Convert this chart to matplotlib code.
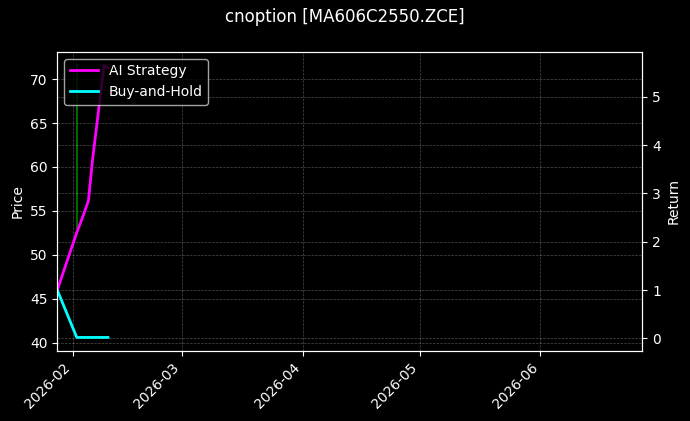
import matplotlib
matplotlib.use("Agg")
import matplotlib.pyplot as plt
import matplotlib.dates as mdates
import pandas as pd

plt.style.use("dark_background")

# Data
title = "cnoption [MA606C2550.ZCE]"
dates = ["2026-01-28", "2026-02-02", "2026-02-03", "2026-02-04", "2026-02-05",
         "2026-02-06", "2026-02-09", "2026-02-10"]
ai_strategy = [1.00, 2.19, 2.40, 2.62, 2.85, 3.66, 5.65, 5.60]
buy_and_hold = [1.00, 0.02, 0.02, 0.02, 0.02, 0.02, 0.02, 0.02]
price_dates = ["2026-02-02", "2026-02-02"]
price_values = [53.05, 71.55]

d = pd.to_datetime(dates)
pdates = pd.to_datetime(price_dates)

fig = plt.figure(figsize=(6.9, 4.21), dpi=100)
ax1 = fig.add_axes([0.083, 0.166, 0.848, 0.711])
ax1.plot(pdates, price_values, color="green", linewidth=1.3, alpha=0.9)
ax1.set_ylabel("Price")
ax1.set_ylim(39.06, 73.1)
ax1.grid(True, linestyle="--", linewidth=0.5, alpha=0.3)

ax2 = ax1.twinx()
ax2.plot(d, ai_strategy, color="magenta", linewidth=2, label="AI Strategy")
ax2.plot(d, buy_and_hold, color="cyan", linewidth=2, label="Buy-and-Hold")
ax2.set_ylabel("Return")
ax2.set_ylim(-0.263, 5.93)
ax2.grid(True, linestyle="--", linewidth=0.5, alpha=0.3)
ax2.legend(loc="upper left")

ax1.set_xlim(pd.Timestamp("2026-01-28"), pd.Timestamp("2026-06-27 04:00"))
ax1.xaxis.set_major_locator(mdates.MonthLocator())
ax1.xaxis.set_major_formatter(mdates.DateFormatter("%Y-%m"))
for lbl in ax1.get_xticklabels():
    lbl.set_rotation(45)
    lbl.set_ha("right")

fig.suptitle(title, fontsize=12)
fig.savefig("out.png", dpi=100)
